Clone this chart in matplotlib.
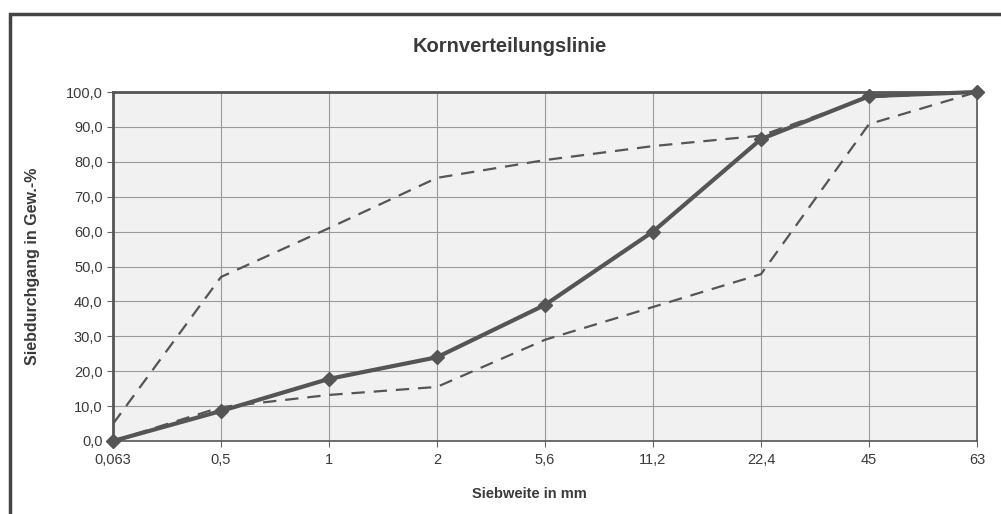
import matplotlib.pyplot as plt
from matplotlib.patches import Rectangle

plt.rcParams['font.family'] = ['Liberation Sans', 'DejaVu Sans']

# sieve sizes (categorical axis) and passing percentages
sieves = ['0,063', '0,5', '1', '2', '5,6', '11,2', '22,4', '45', '63']
passing = [0.0, 8.6, 17.8, 24.0, 39.0, 60.0, 86.5, 98.8, 100.0]
upper_limit = [4.9, 47.0, 61.0, 75.4, 80.5, 84.5, 87.5, 98.5, 100.0]
lower_limit = [0.0, 9.7, 13.2, 15.5, 29.0, 38.4, 47.8, 90.8, 100.0]

fig = plt.figure(figsize=(10.01, 5.14), dpi=100)
ax = fig.add_axes([113 / 1001, 73 / 514, 864 / 1001, 349 / 514])

# outer chart frame
fig.patches.append(Rectangle((10 / 1001, -0.05), 1.2, (514 - 14) / 514 + 0.05,
                             transform=fig.transFigure, fill=False,
                             edgecolor='#444444', linewidth=2.5))

x = list(range(len(sieves)))
ax.set_facecolor('#f1f1f1')

dash = (0, (6, 4))
ax.plot(x, upper_limit, color='#555555', linewidth=1.6, linestyle=dash, zorder=3)
ax.plot(x, lower_limit, color='#555555', linewidth=1.6, linestyle=dash, zorder=3)
ax.plot(x, passing, color='#555555', linewidth=3, marker='D', markersize=7,
        clip_on=False, zorder=4)

ax.set_xlim(0, len(sieves) - 1)
ax.set_ylim(0, 100)
ax.set_xticks(x)
ax.set_xticklabels(sieves)
ax.set_yticks(range(0, 101, 10))
ax.set_yticklabels([f'{v},0' for v in range(0, 101, 10)])
ax.grid(True, color='#9a9a9a', linewidth=0.8)
ax.set_axisbelow(True)
ax.tick_params(labelsize=10.5, colors='#3a3a3a', length=4, color='#666666')
ax.tick_params(axis='x', pad=5)

for s in ax.spines.values():
    s.set_color('#555555')
    s.set_linewidth(1.2)
ax.spines['top'].set_linewidth(2)
ax.spines['left'].set_linewidth(2)

fig.text(510 / 1001, 1 - 46 / 514, 'Kornverteilungslinie', ha='center', va='center',
         fontsize=14.5, fontweight='bold', color='#3a3a3a')
fig.text(529 / 1001, 1 - 494 / 514, 'Siebweite in mm', ha='center', va='center',
         fontsize=10.5, fontweight='bold', color='#3a3a3a')
fig.text(33 / 1001, 1 - 266 / 514, 'Siebdurchgang in Gew.-%', ha='center', va='center',
         rotation=90, fontsize=11.5, fontweight='bold', color='#3a3a3a')

fig.savefig('out.png', dpi=100, facecolor='white')
